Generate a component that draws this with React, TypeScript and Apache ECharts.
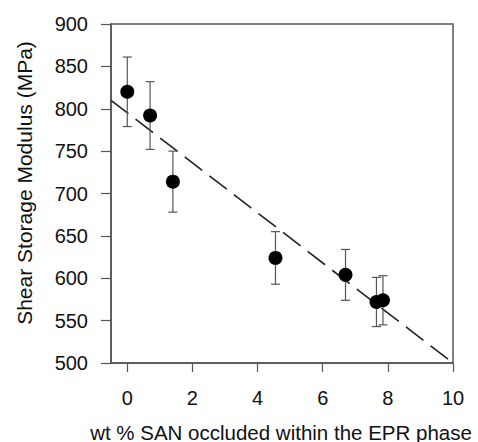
import React, { useEffect, useRef } from "react";
import * as echarts from "echarts";

const sanContent = [0, 0.7, 1.4, 4.55, 6.7, 7.65, 7.85];
const modulus = [820, 792, 714, 624, 604, 572, 574];
const errorHalf = [41, 40, 36, 31, 30, 29, 29];
const fitLineX = [-0.5, 10];
const fitLineY = [810, 500];
const xTicks = [0, 2, 4, 6, 8, 10];

const FONT = "Liberation Sans, Arial, Helvetica, sans-serif";

export default function App() {
  const ref = useRef<HTMLDivElement>(null);
  useEffect(() => {
    if (!ref.current) return;
    document.body.style.margin = "0";
    document.body.style.overflow = "hidden";
    const chart = echarts.init(ref.current, null, { renderer: "svg" });
    const points = sanContent.map((x, i) => [x, modulus[i]]);
    const errData = sanContent.map((x, i) => [x, modulus[i] - errorHalf[i], modulus[i] + errorHalf[i]]);
    const lineData = fitLineX.map((x, i) => [x, fitLineY[i]]);
    chart.setOption({
      animation: false,
      backgroundColor: "#fff",
      grid: {
        left: 111,
        top: 24,
        right: 25,
        bottom: 79,
        show: true,
        borderColor: "#555",
        borderWidth: 1.5,
        containLabel: false,
      },
      xAxis: {
        type: "value",
        min: -0.5,
        max: 10,
        splitLine: { show: false },
        axisLine: { show: true, onZero: false, lineStyle: { color: "#555", width: 1.5 } },
        axisTick: { show: true, inside: false, length: 9, customValues: xTicks, lineStyle: { color: "#555", width: 1.2 } },
        axisLabel: { customValues: xTicks, margin: 25, fontFamily: FONT, fontSize: 20, color: "#111" },
      },
      yAxis: {
        type: "value",
        min: 500,
        max: 900,
        interval: 50,
        axisLine: { show: true, onZero: false, lineStyle: { color: "#555", width: 1.5 } },
        axisTick: { show: true, inside: false, length: 10, lineStyle: { color: "#555", width: 1.2 } },
        axisLabel: { margin: 23, fontFamily: FONT, fontSize: 20, color: "#111" },
        splitLine: { show: false },
      },
      graphic: [
        {
          type: "text",
          x: 24,
          y: 183,
          rotation: Math.PI / 2,
          style: {
            text: "Shear Storage Modulus (MPa)",
            fontFamily: FONT,
            fontSize: 21,
            fill: "#111",
            textAlign: "center",
            textVerticalAlign: "middle",
          },
        },
        {
          type: "text",
          x: 281,
          y: 432,
          style: {
            text: "wt % SAN occluded within the EPR phase",
            fontFamily: FONT,
            fontSize: 20.5,
            fill: "#111",
            textAlign: "center",
            textVerticalAlign: "middle",
          },
        },
      ],
      series: [
        {
          type: "line",
          data: lineData,
          symbol: "none",
          lineStyle: { color: "#222", width: 1.6, type: [22, 9] },
          z: 1,
        },
        {
          type: "custom",
          data: errData,
          z: 2,
          renderItem: (params: any, api: any) => {
            const x = api.value(0);
            const lo = api.coord([x, api.value(1)]);
            const hi = api.coord([x, api.value(2)]);
            const w = 4.5;
            const style = { stroke: "#555", lineWidth: 1.2 };
            return {
              type: "group",
              children: [
                { type: "line", shape: { x1: lo[0], y1: lo[1], x2: hi[0], y2: hi[1] }, style },
                { type: "line", shape: { x1: lo[0] - w, y1: lo[1], x2: lo[0] + w, y2: lo[1] }, style },
                { type: "line", shape: { x1: hi[0] - w, y1: hi[1], x2: hi[0] + w, y2: hi[1] }, style },
              ],
            };
          },
        },
        {
          type: "scatter",
          data: points,
          symbol: "circle",
          symbolSize: 14,
          itemStyle: { color: "#000", opacity: 1 },
          z: 3,
        },
      ],
    });
    return () => chart.dispose();
  }, []);
  return <div ref={ref} style={{ position: "absolute", left: 0, top: 0, width: 478, height: 442 }} />;
}
